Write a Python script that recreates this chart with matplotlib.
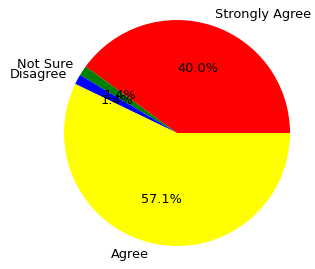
import matplotlib
matplotlib.use("Agg")
import matplotlib.pyplot as plt

labels = ["Strongly Agree", "Not Sure", "Disagree", "Agree"]
counts = [28, 1, 1, 40]
colors = ["red", "green", "blue", "yellow"]

fig = plt.figure(figsize=(3.15, 2.69), dpi=100)
ax = fig.add_axes([0, 0, 1, 1])
ax.pie(counts, labels=labels, colors=colors, autopct="%1.1f%%",
       textprops={"fontsize": 9.3})
cx, cy, r = 177, 133, 113
W, H = 315, 269
ax.set_aspect("auto")
ax.set_xlim(-cx / r, (W - cx) / r)
ax.set_ylim(-(H - cy) / r, cy / r)
ax.axis("off")
fig.savefig("out.png", dpi=100)
